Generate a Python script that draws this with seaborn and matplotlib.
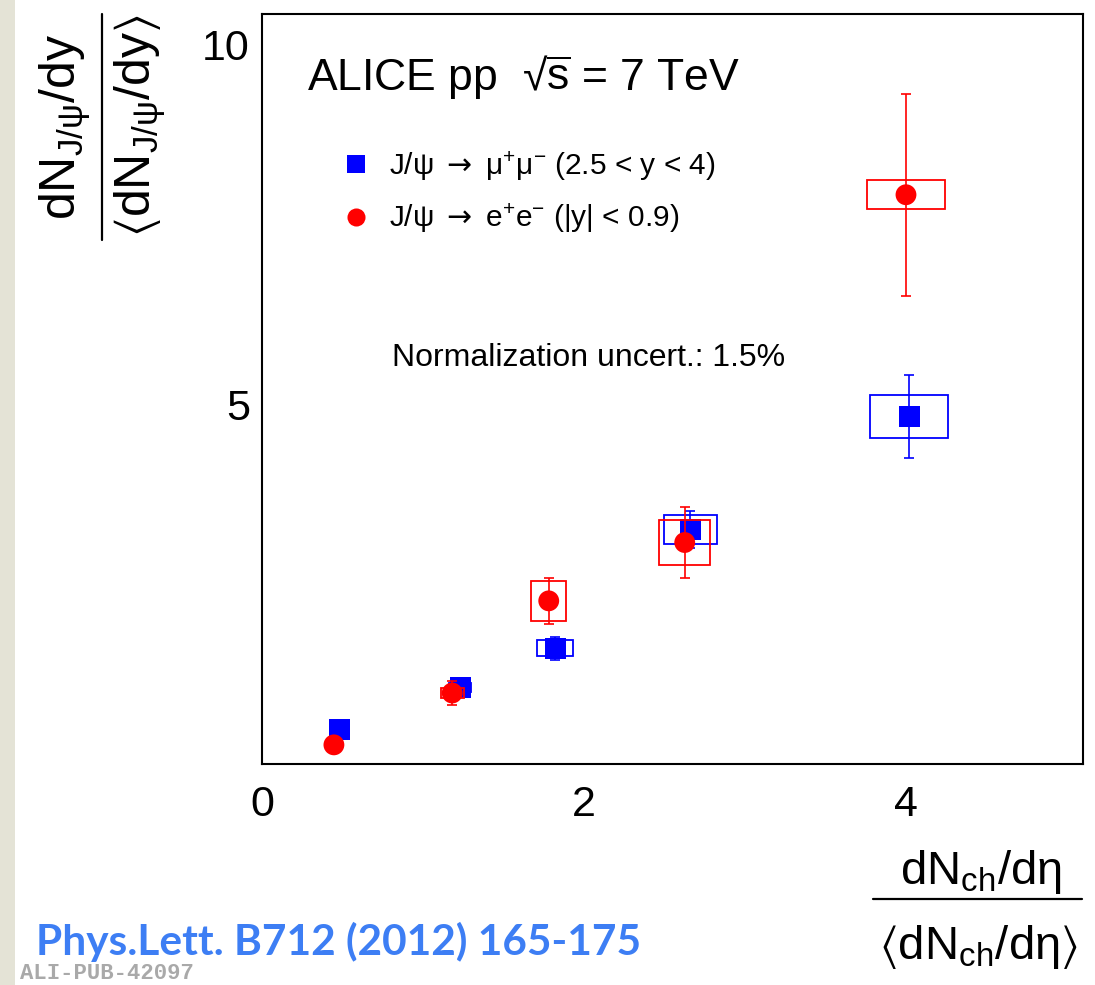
import numpy as np
import pandas as pd
import matplotlib
matplotlib.use("Agg")
import matplotlib.pyplot as plt
from matplotlib.patches import Rectangle
from matplotlib.lines import Line2D
from matplotlib.ticker import MultipleLocator, FixedLocator
import seaborn as sns

# ---- data: relative J/psi yield vs relative charged-particle multiplicity ----
mu_x = [0.48, 1.23, 1.82, 2.66, 4.02]
mu_y = [0.48, 1.07, 1.61, 3.26, 4.83]
mu_stat = [0.06, 0.08, 0.16, 0.26, 0.575]
mu_sys_dx = [0.05, 0.07, 0.112, 0.163, 0.243]
mu_sys_dy = [0.03, 0.06, 0.11, 0.205, 0.295]

ee_x = [0.445, 1.18, 1.78, 2.625, 4.00]
ee_y = [0.27, 0.99, 2.27, 3.08, 7.91]
ee_stat = [0.10, 0.17, 0.315, 0.49, 1.40]
ee_sys_dx = [0.05, 0.072, 0.108, 0.16, 0.242]
ee_sys_dy = [0.05, 0.07, 0.275, 0.315, 0.205]

channels = ["mumu", "ee"]
channel_labels = [r"J/ψ $\mathsf{\rightarrow}$ μ$^{+}$μ$^{\mathrm{-}}$ (2.5 < y < 4)",
                  r"J/ψ $\mathsf{\rightarrow}$ e$^{+}$e$^{\mathrm{-}}$ (|y| < 0.9)"]
colors = {"mumu": "#0000ff", "ee": "#ff0000"}
markers = {"mumu": "s", "ee": "o"}

x_major = [0, 2, 4]
y_major = [5, 10]

# ---- style ----
sns.set_theme(style="white")
plt.rcParams["font.family"] = ["Liberation Sans", "DejaVu Sans"]
plt.rcParams["text.color"] = "black"
plt.rcParams["xtick.color"] = "black"
plt.rcParams["ytick.color"] = "black"
plt.rcParams["mathtext.fontset"] = "custom"
plt.rcParams["mathtext.rm"] = "Liberation Sans"
plt.rcParams["mathtext.it"] = "Liberation Sans"
plt.rcParams["mathtext.sf"] = "DejaVu Sans"
plt.rcParams["mathtext.bf"] = "Liberation Sans:bold"
plt.rcParams["mathtext.fallback"] = "stixsans"

W, H = 1095, 985
fig = plt.figure(figsize=(W / 100, H / 100), dpi=100)
fig.patch.set_facecolor("white")


def fx(px):
    return px / W


def fy(py):
    return 1 - py / H


# textured side strip of the slide
fig.patches.append(Rectangle((0, 0), fx(15), 1, transform=fig.transFigure,
                             facecolor="#e4e3d6", edgecolor="none", zorder=0))

ax = fig.add_axes([fx(262.3), fy(764.3), fx(1083) - fx(262.3), fy(14) - fy(764.3)])
ax.set_facecolor("white")

df = pd.DataFrame({
    "x": mu_x + ee_x,
    "y": mu_y + ee_y,
    "channel": ["mumu"] * len(mu_x) + ["ee"] * len(ee_x),
})

series = {
    "mumu": (mu_x, mu_y, mu_stat, mu_sys_dx, mu_sys_dy),
    "ee": (ee_x, ee_y, ee_stat, ee_sys_dx, ee_sys_dy),
}

for k, ch in enumerate(channels):
    xs, ys, st, sdx, sdy = series[ch]
    c = colors[ch]
    for xi, yi, dxi, dyi in zip(xs, ys, sdx, sdy):
        ax.add_patch(Rectangle((xi - dxi, yi - dyi), 2 * dxi, 2 * dyi, fill=False,
                               edgecolor=c, lw=1.3, zorder=2 + 3 * k))
    ax.errorbar(xs, ys, yerr=st, fmt="none", ecolor=c, elinewidth=1.2,
                capsize=3.5, capthick=1.2, zorder=3 + 3 * k)
    sns.scatterplot(data=df[df["channel"] == ch], x="x", y="y", color=c,
                    marker=markers[ch], s=225, edgecolor="none", linewidth=0,
                    legend=False, ax=ax, zorder=4 + 3 * k)

ax.set_xlim(0, 5.1)
ax.set_ylim(0, 10.42)
ax.set_xlabel("")
ax.set_ylabel("")

ax.xaxis.set_major_locator(FixedLocator(x_major))
ax.xaxis.set_minor_locator(MultipleLocator(0.5))
ax.yaxis.set_major_locator(FixedLocator(y_major))
ax.yaxis.set_minor_locator(MultipleLocator(1))
ax.set_xticklabels([str(v) for v in x_major])
ax.set_yticklabels([str(v) for v in y_major])

ax.tick_params(axis="both", which="both", direction="in", top=False, right=False,
               colors="black", width=1.1)
ax.tick_params(axis="y", which="major", length=17, labelsize=31, pad=9)
ax.tick_params(axis="y", which="minor", length=9)
ax.tick_params(axis="x", which="major", length=16, labelsize=31, pad=15)
ax.tick_params(axis="x", which="minor", length=8.5)
for sp in ax.spines.values():
    sp.set_visible(True)
    sp.set_color("black")
    sp.set_linewidth(1.5)

# legend
handles = [Line2D([], [], linestyle="none", marker=markers[ch], color=colors[ch],
                  markersize=13, markeredgewidth=0) for ch in channels]
ax.legend(handles, channel_labels, loc="upper left",
          bbox_to_anchor=(fx(344), fy(149)), bbox_transform=fig.transFigure,
          frameon=False, fontsize=21.5, handlelength=0.8, handletextpad=0.72,
          labelspacing=0.62, borderpad=0, borderaxespad=0)

# annotations inside the frame
fig.text(fx(307), fy(90), r"ALICE pp  √$\overline{\mathrm{s}}$ = 7 TeV", fontsize=32,
         ha="left", va="baseline")
fig.text(fx(392), fy(366), "Normalization uncert.: 1.5%", fontsize=23,
         ha="left", va="baseline")

# y-axis title as a fraction
fig.text(fx(65), fy(127), r"dN$_{J/\psi}$/dy", fontsize=36, rotation=90,
         ha="center", va="center")
fig.text(fx(140), fy(126), r"$\langle$dN$_{J/\psi}$/dy$\rangle$", fontsize=36,
         rotation=90, ha="center", va="center")
fig.add_artist(Line2D([fx(102), fx(102)], [fy(14), fy(240)], color="black",
                      lw=1.6, transform=fig.transFigure))

# x-axis title as a fraction
fig.text(fx(981), fy(872), r"dN$_{ch}$/d$\eta$", fontsize=34,
         ha="center", va="center")
fig.text(fx(978), fy(947), r"$\langle$dN$_{ch}$/d$\eta\rangle$", fontsize=34,
         ha="center", va="center")
fig.add_artist(Line2D([fx(873), fx(1082)], [fy(899), fy(899)], color="black",
                      lw=1.6, transform=fig.transFigure))

# reference and figure id
fig.text(fx(36), fy(955), "Phys.Lett. B712 (2012) 165-175", fontsize=30.5,
         family=["Lato", "DejaVu Sans"], fontweight="bold", color="#3d7ef4",
         ha="left", va="baseline")
fig.text(fx(20), fy(984), "ALI-PUB-42097", fontsize=16, family=["Liberation Mono"],
         fontweight="bold", color="#a9a9a9", ha="left", va="bottom")

fig.savefig("out.png", dpi=100)
